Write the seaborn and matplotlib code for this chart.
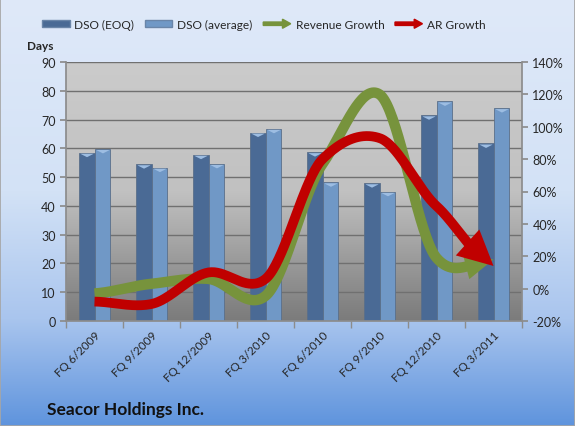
import numpy as np
import pandas as pd
import matplotlib
matplotlib.use('Agg')
import matplotlib.pyplot as plt
import seaborn as sns
from matplotlib.patches import Patch, FancyArrow
from matplotlib.legend_handler import HandlerPatch
from matplotlib.colors import LinearSegmentedColormap

# ---------- data ----------
quarters = ['FQ 6/2009', 'FQ 9/2009', 'FQ 12/2009', 'FQ 3/2010',
            'FQ 6/2010', 'FQ 9/2010', 'FQ 12/2010', 'FQ 3/2011']
dso_eoq = [58.5, 54.5, 57.8, 65.5, 58.7, 47.9, 71.5, 61.7]
dso_avg = [59.8, 53.3, 54.6, 66.8, 48.2, 44.9, 76.3, 74.0]
rev_growth = [-3, 3, 6, -4.5, 77, 120, 19, 18]      # %
ar_growth = [-8, -9.5, 10, 6, 80, 93, 51, 14]       # %

df = pd.DataFrame({'quarter': quarters * 2,
                   'value': dso_eoq + dso_avg,
                   'series': ['DSO (EOQ)'] * 8 + ['DSO (average)'] * 8})

c_eoq, c_avg = '#4a6a95', '#7098c6'
c_rev, c_ar = '#77933c', '#c00000'

sns.set_theme(style='white')
plt.rcParams['font.family'] = ['Lato', 'DejaVu Sans']

fig = plt.figure(figsize=(5.75, 4.27), dpi=100)

# background gradient of the whole chart
bg = fig.add_axes([0, 0, 1, 1], zorder=-10)
grad = np.linspace(0, 1, 256).reshape(-1, 1)
cmap_bg = LinearSegmentedColormap.from_list(
    'bg', [(0, '#dfe9f9'), (0.45, '#d3e2f6'), (0.75, '#a9c5ee'), (1, '#5f94dd')])
bg.imshow(grad, aspect='auto', cmap=cmap_bg, extent=[0, 1, 0, 1], origin='upper')
bg.set_xticks([]); bg.set_yticks([])
for s in bg.spines.values():
    s.set_color('#a6a6a6')

# ---------- bars ----------
ax = fig.add_axes([66 / 575, 1 - 322 / 427, 456 / 575, 259 / 427])
cmap_plot = LinearSegmentedColormap.from_list(
    'pl', [(0, '#cbcbcb'), (0.5, '#c1c1c1'), (0.8, '#969696'), (1, '#7b7b7b')])
sns.barplot(data=df, x='quarter', y='value', hue='series', palette=[c_eoq, c_avg],
            width=0.56, saturation=1, ax=ax, legend=False,
            edgecolor='#5a6f8a', linewidth=0.6)
ax.imshow(grad, extent=[-0.5, 7.5, 0, 90], aspect='auto', cmap=cmap_plot,
          origin='upper', zorder=0)
# light caps on top of bars
for p in ax.patches:
    x0, w, h = p.get_x(), p.get_width(), p.get_height()
    ax.fill_between([x0 + 0.03, x0 + w / 2, x0 + w - 0.03], [h - 0.3, h - 1.4, h - 0.3], h - 0.2,
                    color='#9dbde2', zorder=3, lw=0)

ax.set_xlim(-0.5, 7.5)
ax.set_ylim(0, 90)
ax.set_yticks(range(0, 91, 10))
ax.yaxis.grid(True, color='#707070', lw=1)
ax.set_axisbelow(True)
ax.set_xlabel('')
ax.set_ylabel('')
ax.set_xticks(range(8))
ax.set_xticklabels(quarters, rotation=45, ha='right', rotation_mode='anchor', fontsize=8.5)
ax.set_xticks(np.arange(-0.5, 8, 1), minor=True)
ax.tick_params(axis='x', which='major', length=0, pad=6)
ax.tick_params(axis='x', which='minor', length=5, color='#8c8c8c', bottom=True)
ax.tick_params(axis='y', length=4, color='#8c8c8c', left=True, labelsize=9)
for s in ax.spines.values():
    s.set_visible(False)
ax.spines['bottom'].set_visible(True)
ax.spines['left'].set_visible(True)
ax.spines['bottom'].set_color('#8c8c8c')
ax.spines['left'].set_color('#8c8c8c')

# ---------- growth arrows ----------
ax2 = ax.twinx()
ax2.set_ylim(-20, 140)
ax2.set_yticks(range(-20, 141, 20))
ax2.set_yticklabels([f'{v}%' for v in range(-20, 141, 20)])
ax2.tick_params(axis='y', length=4, color='#8c8c8c', right=True, labelsize=9)
for s in ax2.spines.values():
    s.set_visible(False)
ax2.spines['right'].set_visible(True)
ax2.spines['right'].set_color('#8c8c8c')


def smooth(y, t_end=1.0, n=40, k=0.4):
    # cardinal spline through the points (like Excel's smoothed line)
    y = np.asarray(y, float)
    p = np.concatenate([[y[0]], y, [y[-1]]])
    xs, ys = [], []
    for i in range(len(y) - 1):
        last = i == len(y) - 2
        t = np.linspace(0, t_end if last else 1, n)
        P1, P2 = p[i + 1], p[i + 2]
        m1 = k * (p[i + 2] - p[i])
        m2 = k * (p[i + 3] - p[i + 1])
        h00 = 2 * t ** 3 - 3 * t ** 2 + 1
        h10 = t ** 3 - 2 * t ** 2 + t
        h01 = -2 * t ** 3 + 3 * t ** 2
        h11 = t ** 3 - t ** 2
        xs.append(i + t)
        ys.append(h00 * P1 + h10 * m1 + h01 * P2 + h11 * m2)
    return np.concatenate(xs), np.concatenate(ys)


for vals, col, lw, ms, hw in [(rev_growth, c_rev, 7.5, 17, 0.55), (ar_growth, c_ar, 7, 21, 0.6)]:
    xs, ys = smooth(vals, t_end=0.7)
    ax2.plot(xs, ys, color=col, lw=lw, solid_capstyle='butt', solid_joinstyle='round', zorder=4)
    ax2.annotate('', xy=(7, vals[-1]), xytext=(xs[-10], ys[-10]),
                 arrowprops=dict(arrowstyle=f'-|>,head_length=1.2,head_width={hw}',
                                 mutation_scale=ms, color=col, lw=0,
                                 shrinkA=0, shrinkB=0), zorder=5)

# ---------- legend & texts ----------
def make_arrow(legend, orig_handle, xdescent, ydescent, width, height, fontsize):
    return FancyArrow(0, 0.5 * height, width, 0, length_includes_head=True,
                      width=0.45 * height, head_width=1.2 * height, head_length=0.3 * width)


handles = [Patch(facecolor=c_eoq, edgecolor='#6a85a8'),
           Patch(facecolor=c_avg, edgecolor='#6a85a8'),
           FancyArrow(0, 0, 1, 0, color=c_rev),
           FancyArrow(0, 0, 1, 0, color=c_ar)]
labels = ['DSO (EOQ)', 'DSO (average)', 'Revenue Growth', 'AR Growth']
fig.legend(handles, labels, loc='center', bbox_to_anchor=(264 / 575, 1 - 25 / 427), ncol=4,
           frameon=False, fontsize=8.6, handlelength=2.3, handleheight=0.6,
           handletextpad=0.4, columnspacing=0.9,
           handler_map={FancyArrow: HandlerPatch(patch_func=make_arrow)})

fig.text(27 / 575, 1 - 47 / 427, 'Days', fontsize=8.5, fontweight='bold', va='center')
fig.text(47 / 575, 1 - 410 / 427, 'Seacor Holdings Inc.', fontsize=12.5,
         fontweight='bold', va='center', color='#111111')

fig.savefig('out.png', dpi=100)
